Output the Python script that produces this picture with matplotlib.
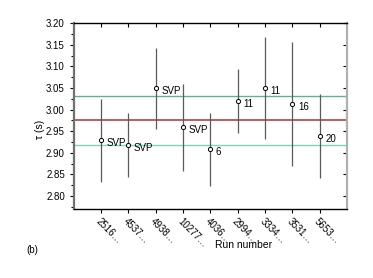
import matplotlib
matplotlib.use("Agg")
import matplotlib.pyplot as plt
from matplotlib.ticker import MultipleLocator

plt.rcParams['font.family'] = ['Liberation Sans', 'DejaVu Sans']

runs = ['2516…', '4537…', '4938…', '10277…', '4036…', '2994…', '3334…', '3531…', '5653…']
tau = [2.929, 2.918, 3.049, 2.959, 2.908, 3.020, 3.049, 3.013, 2.938]
err = [0.096, 0.073, 0.093, 0.100, 0.085, 0.073, 0.118, 0.143, 0.097]
labels = ['SVP', 'SVP', 'SVP', 'SVP', '6', '11', '11', '16', '20']
ref_lines = [3.031, 2.976, 2.918]
ref_colors = ['#5cb296', '#b55252', '#7dd6b8']

fig = plt.figure(figsize=(3.73, 2.78), dpi=100)
ax = fig.add_axes([0.198, 0.248, 0.732, 0.669])

x = list(range(1, len(runs) + 1))
for yv, c, lw in zip(ref_lines, ref_colors, [1.0, 1.3, 1.0]):
    ax.axhline(yv, color=c, lw=lw, zorder=1)

ax.errorbar(x, tau, yerr=err, fmt='o', ms=3.0, mfc='white', mec='black', mew=0.7,
            ecolor='#5a5a5a', elinewidth=0.9, capsize=0, zorder=3)
for xi, yi, lab in zip(x, tau, labels):
    ax.annotate(lab, (xi, yi), xytext=(4, -2), textcoords='offset points',
                fontsize=7, va='center', ha='left')

ax.set_xlim(0, 10)
ax.set_ylim(2.77, 3.20)
ax.set_xticks(x)
ax.set_xticklabels(runs, rotation=-45, ha='left', va='top', rotation_mode='anchor', fontsize=7)
ax.yaxis.set_major_locator(MultipleLocator(0.05))
ax.yaxis.set_minor_locator(MultipleLocator(0.025))
ax.yaxis.set_major_formatter(matplotlib.ticker.FormatStrFormatter('%.2f'))
ax.tick_params(axis='y', labelsize=7, direction='out', length=3, width=0.8)
ax.tick_params(axis='y', which='minor', direction='out', length=2, width=0.8)
ax.tick_params(axis='x', direction='out', length=3, width=0.8, pad=2)

# mirrored ticks on top / right
top = ax.secondary_xaxis('top')
top.set_xticks(x)
top.tick_params(direction='in', length=3, width=0.8, labeltop=False)
right = ax.secondary_yaxis('right')
right.yaxis.set_major_locator(MultipleLocator(0.05))
right.tick_params(direction='in', length=3, width=0.8, labelright=False)
right.spines['right'].set_visible(False)
top.spines['top'].set_visible(False)

ax.spines['left'].set_color('#707070')
ax.spines['left'].set_linewidth(1.6)
ax.spines['right'].set_color('#b0b0b0')
ax.spines['right'].set_linewidth(1.6)
ax.spines['top'].set_linewidth(1.0)
ax.spines['bottom'].set_linewidth(1.0)

ax.set_xlabel('Run number', fontsize=7.5)
ax.xaxis.set_label_coords(0.62, -0.165)
ax.set_ylabel('τ (s)', fontsize=7.5)
ax.yaxis.set_label_coords(-0.105, 0.43)

fig.text(0.072, 1 - 250 / 278, '(b)', fontsize=7, va='center')

fig.savefig('out.png', dpi=100)
